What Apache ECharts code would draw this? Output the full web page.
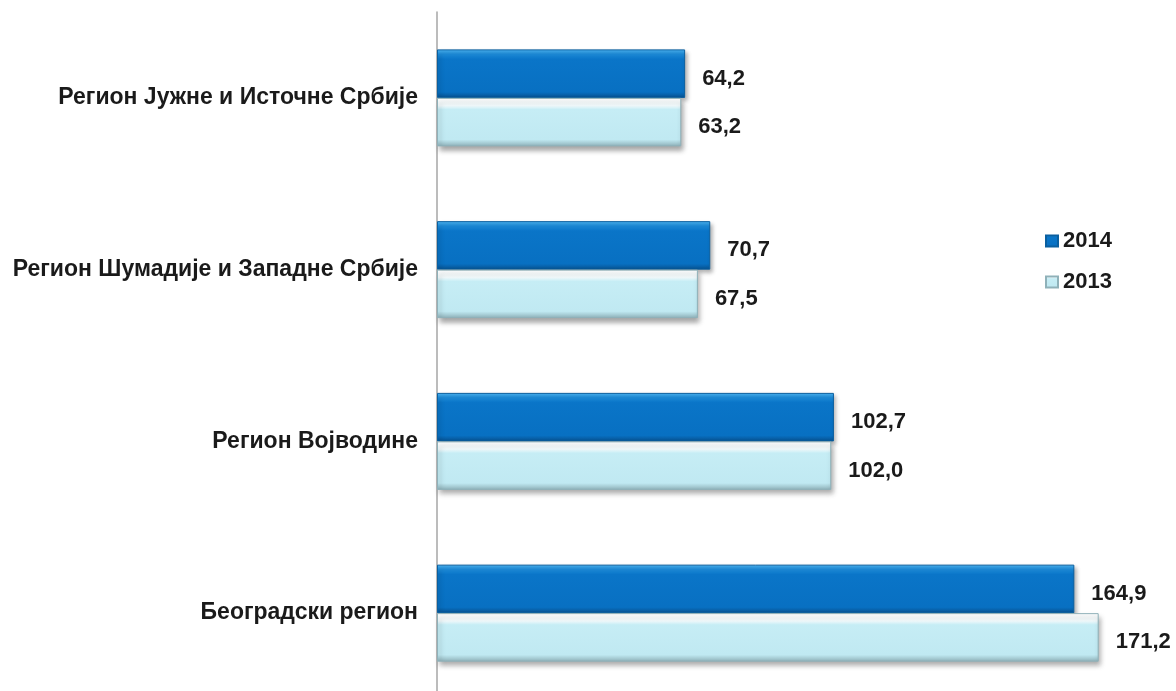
<!DOCTYPE html>
<html>
<head>
<meta charset="utf-8">
<title>Региони</title>
<script src="https://cdn.jsdelivr.net/npm/echarts@6/dist/echarts.min.js"></script>
<style>
  html, body { margin: 0; padding: 0; background: #fff; }
  #chart { width: 1176px; height: 691px; }
</style>
</head>
<body>
<div id="chart"></div>
<script>
// podaci
var regions = [
  "Регион Јужне и Источне Србије",
  "Регион Шумадије и Западне Србије",
  "Регион Војводине",
  "Београдски регион"
];
var values2014 = [64.2, 70.7, 102.7, 164.9];
var values2013 = [63.2, 67.5, 102.0, 171.2];
var seriesNames = ["2014", "2013"];

var fontName = "Liberation Sans, Arial, sans-serif";

// zarez umesto tacke
function fmt(p) {
  return p.value.toFixed(1).replace(".", ",");
}

var blueBar = new echarts.graphic.LinearGradient(0, 0, 0, 1, [
  { offset: 0, color: "#4fb8f6" },
  { offset: 0.1, color: "#1d8ddc" },
  { offset: 0.2, color: "#0a75c8" },
  { offset: 0.88, color: "#0870c2" },
  { offset: 1, color: "#07508e" }
]);
var lightBar = new echarts.graphic.LinearGradient(0, 0, 0, 1, [
  { offset: 0, color: "#ffffff" },
  { offset: 0.16, color: "#f4fcfe" },
  { offset: 0.24, color: "#c6edf5" },
  { offset: 0.86, color: "#c0e9f2" },
  { offset: 1, color: "#8eb0b8" }
]);

var chart = echarts.init(document.getElementById("chart"));

var valueLabel = {
  show: true,
  position: "right",
  distance: 17,
  offset: [0, 5],
  formatter: fmt,
  fontFamily: fontName,
  fontWeight: "bold",
  fontSize: 22,
  color: "#1a1a1a"
};

var option = {
  backgroundColor: "#fff",
  animation: false,
  legend: {
    orient: "vertical",
    left: 1045,
    top: 230,
    padding: 0,
    icon: "rect",
    itemWidth: 12,
    itemHeight: 11,
    itemGap: 19,
    textStyle: {
      fontFamily: fontName,
      fontWeight: "bold",
      fontSize: 22,
      color: "#1a1a1a"
    },
    data: seriesNames
  },
  grid: {
    left: 437,
    top: 12,
    width: 695.7,
    height: 687,
    containLabel: false,
    outerBoundsMode: "none"
  },
  xAxis: {
    type: "value",
    min: 0,
    max: 180,
    show: false
  },
  yAxis: {
    type: "category",
    inverse: true,
    data: regions,
    axisLine: { show: true, lineStyle: { color: "#a6a6a6", width: 1.5 } },
    axisTick: { show: false },
    axisLabel: {
      margin: 19,
      fontFamily: fontName,
      fontWeight: "bold",
      fontSize: 23,
      color: "#1a1a1a",
      padding: [9, 0, 0, 0]
    }
  },
  series: [
    {
      name: seriesNames[0],
      type: "bar",
      data: values2014,
      barWidth: 48.5,
      barGap: "0%",
      itemStyle: {
        color: blueBar,
        borderColor: "#0a5f9f",
        borderWidth: 1,
        shadowColor: "rgba(0,0,0,0.3)",
        shadowBlur: 4,
        shadowOffsetX: 2,
        shadowOffsetY: 3
      },
      label: valueLabel
    },
    {
      name: seriesNames[1],
      type: "bar",
      data: values2013,
      barWidth: 48.5,
      barGap: "0%",
      itemStyle: {
        color: lightBar,
        borderColor: "#8fb1b9",
        borderWidth: 1,
        shadowColor: "rgba(0,0,0,0.35)",
        shadowBlur: 5,
        shadowOffsetX: 2,
        shadowOffsetY: 4
      },
      label: valueLabel
    }
  ]
};

chart.setOption(option);
</script>
</body>
</html>
